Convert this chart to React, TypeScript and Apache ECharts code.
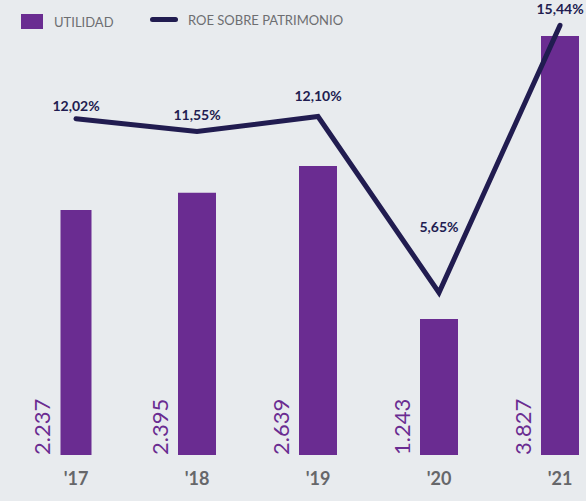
import React, { useEffect, useRef } from "react";
import * as echarts from "echarts";

const categories = ["'17", "'18", "'19", "'20", "'21"];
const utilidad = [2237, 2395, 2639, 1243, 3827];
const roe = [12.02, 11.55, 12.1, 5.65, 15.44];
const roeLabelDistance = [6, 10, 14, 59, 9];

const PURPLE = "#6a2c91";
const NAVY = "#211c50";
const GRAY = "#6d6e71";
const BG = "#e8ebee";
const FONT = "Lato, 'Noto Sans', sans-serif";

function fmtThousands(v: number): string {
  return String(v).replace(/\B(?=(\d{3})+(?!\d))/g, ".");
}
function fmtPct(v: number): string {
  return v.toFixed(2).replace(".", ",") + "%";
}

export default function App() {
  const ref = useRef<HTMLDivElement>(null);
  useEffect(() => {
    document.body.style.margin = "0";
    const chart = echarts.init(ref.current!, undefined, { renderer: "svg" });
    const barLabel = {
      show: true,
      rotate: 90,
      position: [-8, "100%"],
      align: "left",
      verticalAlign: "bottom",
      color: PURPLE,
      fontSize: 22,
      fontFamily: "'Liberation Sans Narrow', Lato, sans-serif",
      formatter: (p: any) => fmtThousands(p.value),
    };
    const firstData = utilidad.map((v, i) => (i === 0 ? v : "-"));
    const restData = utilidad.map((v, i) => (i === 0 ? "-" : v));
    chart.setOption({
      animation: false,
      backgroundColor: BG,
      textStyle: { fontFamily: FONT },
      legend: [
        {
          data: [{ name: "UTILIDAD", icon: "rect" }],
          left: 21,
          top: 14,
          padding: 0,
          itemWidth: 22,
          itemHeight: 15,
          textStyle: { color: GRAY, fontSize: 13, fontFamily: FONT, padding: [0, 0, 0, 6] },
        },
        {
          data: [{ name: "ROE SOBRE PATRIMONIO", icon: "path://M2.5,0 H25.5 A2.5,2.5 0 0 1 25.5,5 H2.5 A2.5,2.5 0 0 1 2.5,0 Z" }],
          left: 150,
          top: 13,
          padding: 0,
          itemWidth: 28,
          itemHeight: 5,
          textStyle: { color: GRAY, fontSize: 13, fontFamily: FONT, padding: [0, 0, 0, 5] },
        },
      ],
      grid: { left: 76, right: 26, top: 36, bottom: 46 },
      xAxis: [
        {
          type: "category",
          data: categories,
          boundaryGap: false,
          axisLine: { show: false },
          axisTick: { show: false },
          splitLine: { show: false },
          axisLabel: { color: "#66676a", fontSize: 18, fontWeight: "bold", fontFamily: FONT, margin: 14 },
        },
        {
          type: "category",
          data: categories,
          boundaryGap: false,
          show: false,
        },
      ],
      yAxis: [
        { type: "value", min: 0, max: 3827, show: false, splitLine: { show: false } },
        { type: "value", min: -0.3, max: 15.05, show: false, splitLine: { show: false } },
      ],
      series: [
        {
          name: "UTILIDAD",
          type: "bar",
          xAxisIndex: 1,
          yAxisIndex: 0,
          barWidth: 31,
          clip: false,
          data: firstData,
          itemStyle: { color: PURPLE },
          label: barLabel,
        },
        {
          name: "UTILIDAD",
          type: "bar",
          xAxisIndex: 0,
          yAxisIndex: 0,
          barWidth: 38,
          clip: false,
          data: restData,
          itemStyle: { color: PURPLE },
          label: barLabel,
        },
        {
          name: "ROE SOBRE PATRIMONIO",
          type: "line",
          xAxisIndex: 0,
          yAxisIndex: 1,
          clip: false,
          symbol: "circle",
          symbolSize: 1,
          showSymbol: true,
          lineStyle: { color: NAVY, width: 5, cap: "round", join: "miter" },
          itemStyle: { color: NAVY },
          data: roe.map((v, i) => ({
            value: v,
            label: { distance: roeLabelDistance[i] },
          })),
          label: {
            show: true,
            position: "top",
            color: NAVY,
            fontSize: 14,
            fontWeight: "bold",
            fontFamily: FONT,
            formatter: (p: any) => fmtPct(p.value),
          },
        },
      ],
    });
    return () => chart.dispose();
  }, []);
  return <div ref={ref} style={{ width: 586, height: 501 }} />;
}
